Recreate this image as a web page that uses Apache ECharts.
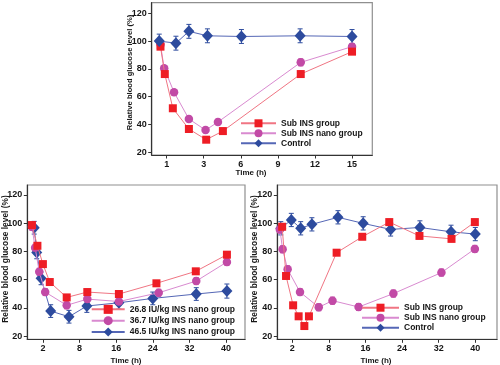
<!DOCTYPE html>
<html><head><meta charset="utf-8">
<script src="https://cdn.jsdelivr.net/npm/echarts@6/dist/echarts.min.js"></script>
<style>html,body{margin:0;padding:0;background:#fff}#c{width:500px;height:365px}</style>
</head><body><div id="c"></div>
<script>
// ---------- DATA ----------
// Top panel (x: axis position in hours, y: relative blood glucose %)
const topSubTime   = [-0.5, -0.15, 0.5, 1.8, 3.2, 4.55, 10.85, 15];
const topSubValue  = [96, 76.3, 51.7, 36.8, 29.1, 35.3, 76.3, 92.4];
const topSubErr    = [2, 2, 2, 2, 2, 2, 2, 2];
const topNanoTime  = [-0.5, -0.2, 0.6, 1.8, 3.15, 4.15, 10.85, 15];
const topNanoValue = [97.5, 80.4, 63.2, 44, 36, 41.8, 84.7, 96];
const topNanoErr   = [2, 2, 2, 2, 2, 2, 2.5, 2];
const topCtrlTime  = [-0.6, 0.75, 1.8, 3.3, 6.05, 10.8, 15];
const topCtrlValue = [100, 98.5, 107, 103.8, 103.3, 103.8, 103.3];
const topCtrlErr   = [5, 5, 5, 5, 5, 5, 5];
const topTickValues = [0, 3, 6, 9, 12, 15];
const topTickLabels = ['1', '3', '6', '9', '12', '15'];

// Bottom-left panel (doses)
const bl268Time  = [-2.4, -1.2, 0, 1.5, 5.2, 9.7, 16.6, 24.8, 33.4, 40.2];
const bl268Value = [98.7, 84, 71, 58.3, 47.4, 51.2, 49.8, 57.4, 65.9, 77.7];
const bl268Err   = [2, 2, 2, 2, 2, 2, 2, 2, 2, 2];
const bl367Time  = [-2.4, -1.7, -0.8, 0.5, 5.2, 9.7, 16.6, 25.3, 33.5, 40.2];
const bl367Value = [97.5, 82.6, 65.6, 51.2, 41.8, 46.2, 44.5, 50.7, 59, 72.5];
const bl367Err   = [2.5, 2.5, 2.5, 2.5, 2.5, 2.5, 2.5, 2.5, 2.5, 2.5];
const bl465Time  = [-1.9, -1.35, -0.4, 1.7, 5.7, 9.6, 16.6, 24, 33.5, 40.2];
const bl465Value = [96.8, 79.3, 60.9, 37.7, 33.7, 41.3, 43.6, 46.7, 49.8, 51.9];
const bl465Err   = [4.5, 4.5, 4.5, 4.5, 4.5, 4.5, 4.5, 4.5, 4.5, 5];

// Bottom-right panel
const brSubTime   = [-2.2, -1.35, 0.2, 1.4, 2.65, 3.65, 9.7, 15.3, 21.2, 27.8, 34.8, 39.9];
const brSubValue  = [97.5, 62.6, 41.8, 34, 27.1, 34, 79.1, 90.4, 100.8, 91, 88.9, 100.8];
const brSubErr    = [2, 2, 2, 2, 2, 2, 2, 2, 2, 2, 2, 2];
const brNanoTime  = [-2.7, -2.1, -1, 1.7, 5.8, 8.8, 14.5, 22.1, 32.6, 39.9];
const brNanoValue = [95.6, 81.5, 67.3, 51.2, 40.4, 45.1, 40.6, 50.1, 65, 81.8];
const brNanoErr   = [2.5, 2.5, 2.5, 2.5, 2.5, 2.5, 2.5, 2.5, 2.5, 2.5];
const brCtrlTime  = [-2.5, -0.2, 1.85, 4.3, 10, 15.5, 21.5, 27.9, 34.7, 40];
const brCtrlValue = [96.4, 102.3, 96.4, 99.2, 104.2, 99.9, 95.6, 97, 93.9, 92.3];
const brCtrlErr   = [4.7, 4.7, 4.7, 4.7, 4.7, 4.7, 4.7, 4.7, 4.7, 4.7];

const bottomTickValues = [0, 8, 16, 24, 32, 40];
const bottomTickLabels = ['2', '8', '16', '24', '32', '40'];
const yTickValues = [20, 40, 60, 80, 100, 120];

const topNames = ['Sub INS group', 'Sub INS nano group', 'Control'];
const blNames = ['26.8 IU/kg INS nano group', '36.7 IU/kg INS nano group', '46.5 IU/kg INS nano group'];
const yTitle = 'Relative blood glucose level (%)';
const xTitle = 'Time (h)';

// ---------- STYLE ----------
const FONT = '"Liberation Sans", Arial, sans-serif';
const TXT = '#161616';
const RED = {marker: '#ee1d25', line: '#f07583', symbol: 'rect', size: 8};
const MAG = {marker: '#c24aa6', line: '#d98ad0', symbol: 'circle', size: 8.5};
const BLU = {marker: '#2d4b9e', line: '#5567b6', symbol: 'diamond', size: [11, 12]};

function lineSeries(name, gi, xs, ys, st, z) {
  return {
    type: 'line', name: name, xAxisIndex: gi, yAxisIndex: gi,
    data: xs.map((x, i) => [x, ys[i]]),
    symbol: st.symbol, symbolSize: st.size, showAllSymbol: true,
    itemStyle: {color: st.marker, opacity: 1},
    lineStyle: {color: st.line, width: 1},
    emphasis: {disabled: true}, animation: false, z: z, clip: false
  };
}
function errSeries(gi, xs, ys, es, st, z) {
  return {
    type: 'custom', xAxisIndex: gi, yAxisIndex: gi, silent: true, animation: false, z: z,
    data: xs.map((x, i) => [x, ys[i] - es[i], ys[i] + es[i]]),
    encode: {x: 0, y: [1, 2]},
    renderItem: function (params, api) {
      const x = api.value(0);
      const a = api.coord([x, api.value(1)]);
      const b = api.coord([x, api.value(2)]);
      const w = 2.5;
      const s = {stroke: st.marker, lineWidth: 1};
      return {type: 'group', children: [
        {type: 'line', shape: {x1: a[0], y1: a[1], x2: b[0], y2: b[1]}, style: s},
        {type: 'line', shape: {x1: a[0] - w, y1: a[1], x2: a[0] + w, y2: a[1]}, style: s},
        {type: 'line', shape: {x1: b[0] - w, y1: b[1], x2: b[0] + w, y2: b[1]}, style: s}
      ]};
    }
  };
}
function xAxis(gi, min, max, vals, labels) {
  return {
    gridIndex: gi, type: 'value', min: min, max: max,
    axisLine: {show: true, onZero: false, lineStyle: {color: '#333', width: 1.2}},
    axisTick: {show: true, length: 3.5, customValues: vals, lineStyle: {color: '#333', width: 1}},
    axisLabel: {customValues: vals, margin: 5, fontSize: 9, fontWeight: 'bold', fontFamily: FONT, color: TXT,
      formatter: v => labels[vals.indexOf(v)]},
    splitLine: {show: false}
  };
}
function yAxis(gi, min, max) {
  return {
    gridIndex: gi, type: 'value', min: min, max: max,
    axisLine: {show: true, onZero: false, lineStyle: {color: '#333', width: 1.2}},
    axisTick: {show: true, length: 3.5, customValues: yTickValues, lineStyle: {color: '#333', width: 1}},
    axisLabel: {customValues: yTickValues, margin: 5, fontSize: 9, fontWeight: 'bold', fontFamily: FONT, color: TXT},
    splitLine: {show: false}
  };
}
function legend(names, left, top, itemW, itemH) {
  return {
    data: names, orient: 'vertical', left: left, top: top, padding: 0,
    itemWidth: itemW, itemHeight: itemH, itemGap: 0, selectedMode: false,
    textStyle: {fontFamily: FONT, fontWeight: 'bold', fontSize: 8.5, color: TXT, lineHeight: itemH}
  };
}
function gridBox(left, top, width, height) {
  return {left: left, top: top, width: width, height: height, show: true,
    borderColor: '#8f8f8f', borderWidth: 1.2, backgroundColor: 'transparent'};
}
function vText(text, x, y, size) {
  return {type: 'text', x: x, y: y, rotation: Math.PI / 2,
    style: {text: text, font: 'bold ' + size + 'px ' + FONT, fill: TXT, align: 'center', verticalAlign: 'middle'}};
}
function hText(text, x, y, size) {
  return {type: 'text', x: x, y: y,
    style: {text: text, font: 'bold ' + size + 'px ' + FONT, fill: TXT, align: 'center', verticalAlign: 'middle'}};
}

const option = {
  animation: false,
  backgroundColor: '#ffffff',
  grid: [
    gridBox(151.7, 2.7, 220.6, 152.3),
    gridBox(27.3, 185, 217.7, 154.3),
    gridBox(277.3, 185, 219.7, 154.3)
  ],
  xAxis: [
    xAxis(0, -1.21, 16.64, topTickValues, topTickLabels),
    xAxis(1, -3.41, 44.15, bottomTickValues, bottomTickLabels),
    xAxis(2, -3.26, 44.74, bottomTickValues, bottomTickLabels)
  ],
  yAxis: [yAxis(0, 18.1, 127.6), yAxis(1, 17.7, 127.1), yAxis(2, 17.7, 127.1)],
  legend: [
    legend(topNames, 240, 118.3, 35, 10),
    legend(blNames, 90.7, 303.7, 33, 11.3),
    legend(topNames, 361, 302.7, 37, 10)
  ],
  graphic: [
    vText(yTitle, 129.7, 72.5, 7.6),
    vText(yTitle, 5.8, 259, 8.4),
    vText(yTitle, 254.5, 259, 8.4),
    hText(xTitle, 251, 172.5, 8),
    hText(xTitle, 126, 360.5, 8),
    hText(xTitle, 376, 361, 8)
  ],
  series: [
    errSeries(0, topCtrlTime, topCtrlValue, topCtrlErr, BLU, 1),
    errSeries(0, topNanoTime, topNanoValue, topNanoErr, MAG, 1),
    errSeries(0, topSubTime, topSubValue, topSubErr, RED, 1),
    lineSeries(topNames[1], 0, topNanoTime, topNanoValue, MAG, 2),
    lineSeries(topNames[0], 0, topSubTime, topSubValue, RED, 3),
    lineSeries(topNames[2], 0, topCtrlTime, topCtrlValue, BLU, 4),

    errSeries(1, bl465Time, bl465Value, bl465Err, BLU, 1),
    errSeries(1, bl367Time, bl367Value, bl367Err, MAG, 1),
    errSeries(1, bl268Time, bl268Value, bl268Err, RED, 1),
    lineSeries(blNames[2], 1, bl465Time, bl465Value, BLU, 2),
    lineSeries(blNames[1], 1, bl367Time, bl367Value, MAG, 3),
    lineSeries(blNames[0], 1, bl268Time, bl268Value, RED, 4),

    errSeries(2, brCtrlTime, brCtrlValue, brCtrlErr, BLU, 1),
    errSeries(2, brNanoTime, brNanoValue, brNanoErr, MAG, 1),
    errSeries(2, brSubTime, brSubValue, brSubErr, RED, 1),
    lineSeries(topNames[2], 2, brCtrlTime, brCtrlValue, BLU, 2),
    lineSeries(topNames[1], 2, brNanoTime, brNanoValue, MAG, 3),
    lineSeries(topNames[0], 2, brSubTime, brSubValue, RED, 4)
  ]
};
const chart = echarts.init(document.getElementById('c'), null, {renderer: 'canvas'});
chart.setOption(option);
</script>
</body></html>
